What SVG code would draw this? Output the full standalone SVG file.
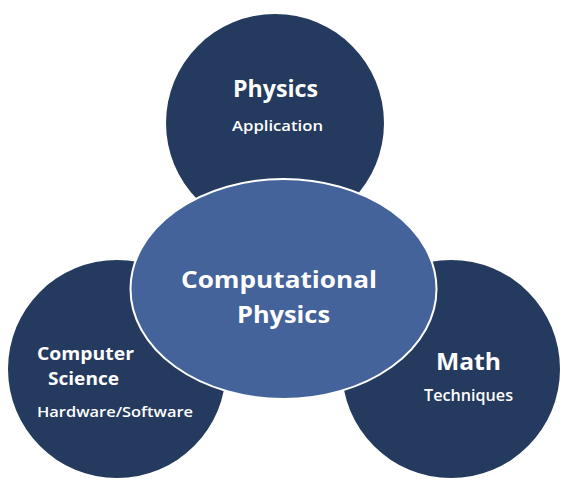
<svg xmlns="http://www.w3.org/2000/svg" width="571" height="490" viewBox="0 0 571 490">
<style>
.circle{fill:#243A5E;}
.center{fill:#44639A;stroke:#FFFFFF;stroke-width:2;}
text{font-family:"Open Sans","DejaVu Sans",sans-serif;fill:#FFFFFF;font-weight:bold;text-anchor:middle;}
.small{font-weight:600;}
</style>
<rect width="571" height="490" fill="#FFFFFF"/>
<g id="connectors"></g>
<g id="physics">
<circle class="circle" cx="275" cy="123" r="109"/>
<text x="275.5" y="97" font-size="23" textLength="85" lengthAdjust="spacingAndGlyphs">Physics</text>
<text class="small" x="277.5" y="131" font-size="14.5" textLength="91" lengthAdjust="spacingAndGlyphs">Application</text>
</g>
<g id="computer-science">
<circle class="circle" cx="117" cy="369" r="109"/>
<text x="85.5" y="360" font-size="18.5" textLength="97" lengthAdjust="spacingAndGlyphs">Computer</text>
<text x="83.5" y="385" font-size="18.5" textLength="71" lengthAdjust="spacingAndGlyphs">Science</text>
<text class="small" x="115" y="417" font-size="14" textLength="156" lengthAdjust="spacingAndGlyphs">Hardware/Software</text>
</g>
<g id="math">
<circle class="circle" cx="451" cy="369" r="109"/>
<text x="468.5" y="370" font-size="23" textLength="65" lengthAdjust="spacingAndGlyphs">Math</text>
<text class="small" x="468.5" y="401" font-size="15.5" textLength="89" lengthAdjust="spacingAndGlyphs">Techniques</text>
</g>
<g id="computational-physics">
<ellipse class="center" cx="283.5" cy="289" rx="153" ry="110"/>
<text x="279" y="288" font-size="23" textLength="196" lengthAdjust="spacingAndGlyphs">Computational</text>
<text x="283.5" y="322.5" font-size="22.5" textLength="93" lengthAdjust="spacingAndGlyphs">Physics</text>
</g>
</svg>
